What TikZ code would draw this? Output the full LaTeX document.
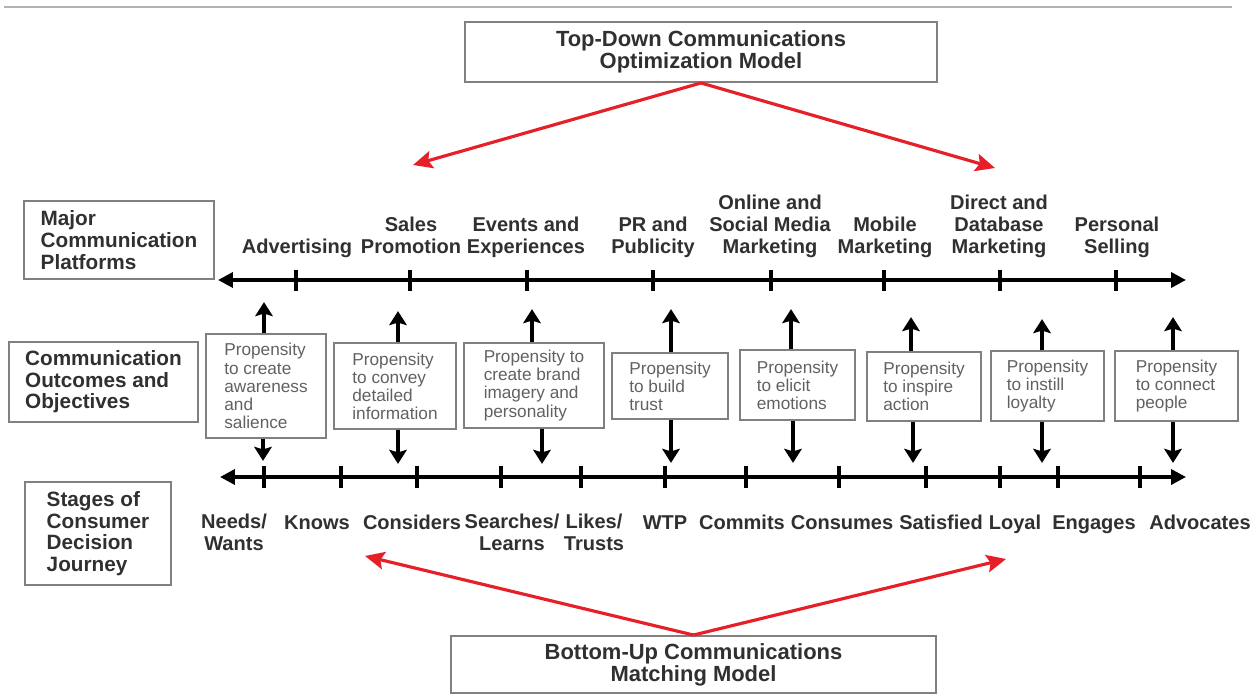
\documentclass[tikz,border=0pt]{standalone}
\usepackage{fontspec}
\setmainfont{Liberation Sans}
\usetikzlibrary{arrows.meta}
\definecolor{modelred}{RGB}{230,32,40}
\definecolor{inkgray}{RGB}{48,48,48}
\definecolor{boxgray}{RGB}{128,128,128}
\tikzset{
  model/.style={draw=boxgray, line width=1.1pt, text=inkgray, align=center,
    font=\fontsize{12.5}{12.6}\selectfont\bfseries},
  layer/.style={draw=boxgray, line width=1pt, text=inkgray, align=left,
    font=\fontsize{11.8}{12.3}\selectfont\bfseries},
  goal/.style={draw=boxgray, line width=1pt, text=black!62, align=left,
    font=\fontsize{9.8}{10.3}\selectfont},
  platlabel/.style={anchor=south, inner sep=0pt, align=center, text=inkgray,
    font=\fontsize{11.4}{12.5}\selectfont\bfseries, execute at end node=\strut},
  stagelabel/.style={anchor=north, inner sep=0pt, align=center, text=inkgray,
    font=\fontsize{11.4}{12.2}\selectfont\bfseries, execute at begin node=\strut},
  track/.style={line width=2pt, {Triangle[length=8.5pt,width=8.5pt]}-{Triangle[length=8.5pt,width=8.5pt]}},
  notch/.style={line width=2.2pt},
  vec/.style={line width=1.9pt, -{Stealth[length=8pt,width=10pt,inset=1.5pt]}},
  redvec/.style={modelred, line width=1.8pt, -{Stealth[length=11pt,width=10pt,inset=2pt]}}
}
\begin{document}
\begin{tikzpicture}[x=0.02cm, y=-0.02cm]
\useasboundingbox (0,0) rectangle (1254,695);
\draw[boxgray!60, line width=1.2pt] (4,7) -- (1232,7);

% the two models
\node[model, minimum width=9.44cm, minimum height=1.2cm] (topdown) at (701,52) {Top-Down Communications\\Optimization Model};
\node[model, minimum width=9.7cm, minimum height=1.14cm] (bottomup) at (693.5,664.5) {Bottom-Up Communications\\Matching Model};
\coordinate (tdL) at (413,165);
\coordinate (tdR) at (995,168);
\coordinate (buL) at (365,556);
\coordinate (buR) at (1006,559);
\draw[redvec] (topdown.south) -- (tdL);
\draw[redvec] (topdown.south) -- (tdR);
\draw[redvec] (bottomup.north) -- (buL);
\draw[redvec] (bottomup.north) -- (buR);

% row headings
\node[layer, minimum width=3.8cm, minimum height=1.56cm] (platforms) at (119,240) {Major\\Communication\\Platforms};
\node[layer, minimum width=3.78cm, minimum height=1.6cm] (outcomes) at (103.5,382) {Communication\\Outcomes and\\Objectives};
\node[layer, minimum width=2.92cm, minimum height=2.06cm] (stages) at (98,533.5) {Stages of\\Consumer\\Decision\\Journey};

% platforms line
\coordinate (pl) at (218,280);
\coordinate (pr) at (1186,280);
\draw[track] (pl) -- (pr);
\draw[notch] (296,270) -- (296,291);
\draw[notch] (410,270) -- (410,291);
\draw[notch] (527,270) -- (527,291);
\draw[notch] (653,270) -- (653,291);
\draw[notch] (771,270) -- (771,291);
\draw[notch] (884,270) -- (884,291);
\draw[notch] (1000,270) -- (1000,291);
\draw[notch] (1116,270) -- (1116,291);
\node[platlabel] (advertising) at (297,260) {Advertising};
\node[platlabel] (sales) at (411,260) {Sales\\Promotion};
\node[platlabel] (events) at (526,260) {Events and\\Experiences};
\node[platlabel] (publicity) at (653,260) {PR and\\Publicity};
\node[platlabel] (online) at (770,260) {Online and\\Social Media\\Marketing};
\node[platlabel] (mobile) at (885,260) {Mobile\\Marketing};
\node[platlabel] (direct) at (999,260) {Direct and\\Database\\Marketing};
\node[platlabel] (selling) at (1117,260) {Personal\\Selling};

% outcomes
\node[goal, minimum width=2.40cm, minimum height=2.08cm] (awareness) at (266,386) {Propensity\\to create\\awareness\\and\\salience};
\node[goal, minimum width=2.44cm, minimum height=1.72cm] (information) at (395,386) {Propensity\\to convey\\detailed\\information};
\node[goal, minimum width=2.80cm, minimum height=1.70cm] (imagery) at (534,385.5) {Propensity to\\create brand\\imagery and\\personality};
\node[goal, minimum width=2.32cm, minimum height=1.32cm] (trust) at (670,386) {Propensity\\to build\\trust};
\node[goal, minimum width=2.30cm, minimum height=1.40cm] (emotions) at (797.5,385) {Propensity\\to elicit\\emotions};
\node[goal, minimum width=2.28cm, minimum height=1.38cm] (action) at (924,386.5) {Propensity\\to inspire\\action};
\node[goal, minimum width=2.26cm, minimum height=1.40cm] (loyalty) at (1047.5,386) {Propensity\\to instill\\loyalty};
\node[goal, minimum width=2.46cm, minimum height=1.40cm] (people) at (1176.5,386) {Propensity\\to connect\\people};
\draw[vec] ([xshift=-0.04cm]awareness.north) -- ++(0,-31);
\draw[vec] ([xshift=-0.06cm]awareness.south) -- ++(0,22);
\draw[vec] ([xshift=0.06cm]information.north) -- ++(0,-31);
\draw[vec] ([xshift=0.06cm]information.south) -- ++(0,34);
\draw[vec] ([xshift=-0.04cm]imagery.north) -- ++(0,-33);
\draw[vec] ([xshift=0.16cm]imagery.south) -- ++(0,35);
\draw[vec] ([xshift=0.02cm]trust.north) -- ++(0,-43);
\draw[vec] ([xshift=0.02cm]trust.south) -- ++(0,43);
\draw[vec] ([xshift=-0.13cm]emotions.north) -- ++(0,-40);
\draw[vec] ([xshift=-0.09cm]emotions.south) -- ++(0,42);
\draw[vec] ([xshift=-0.26cm]action.north) -- ++(0,-34);
\draw[vec] ([xshift=-0.22cm]action.south) -- ++(0,41);
\draw[vec] ([xshift=-0.11cm]loyalty.north) -- ++(0,-31);
\draw[vec] ([xshift=-0.11cm]loyalty.south) -- ++(0,41);
\draw[vec] ([xshift=-0.07cm]people.north) -- ++(0,-33);
\draw[vec] ([xshift=-0.07cm]people.south) -- ++(0,41);

% journey line
\coordinate (sl) at (220,477);
\coordinate (sr) at (1186,477);
\draw[track] (sl) -- (sr);
\draw[notch] (264,466) -- (264,488);
\draw[notch] (341,466) -- (341,488);
\draw[notch] (417,466) -- (417,488);
\draw[notch] (501,466) -- (501,488);
\draw[notch] (581,466) -- (581,488);
\draw[notch] (665,466) -- (665,488);
\draw[notch] (746,466) -- (746,488);
\draw[notch] (839,466) -- (839,488);
\draw[notch] (926,466) -- (926,488);
\draw[notch] (1000,466) -- (1000,488);
\draw[notch] (1058,466) -- (1058,488);
\draw[notch] (1140,466) -- (1140,488);
\node[stagelabel] (needs) at (234,514) {Needs/\\Wants};
\node[stagelabel] (knows) at (317,514) {Knows};
\node[stagelabel] (considers) at (412,514) {Considers};
\node[stagelabel] (searches) at (512,514) {Searches/\\Learns};
\node[stagelabel] (likes) at (594,514) {Likes/\\Trusts};
\node[stagelabel] (wtp) at (665,514) {WTP};
\node[stagelabel] (commits) at (742,514) {Commits};
\node[stagelabel] (consumes) at (842,514) {Consumes};
\node[stagelabel] (satisfied) at (941,514) {Satisfied};
\node[stagelabel] (loyal) at (1015,514) {Loyal};
\node[stagelabel] (engages) at (1094,514) {Engages};
\node[stagelabel] (advocates) at (1200,514) {Advocates};
\end{tikzpicture}
\end{document}
